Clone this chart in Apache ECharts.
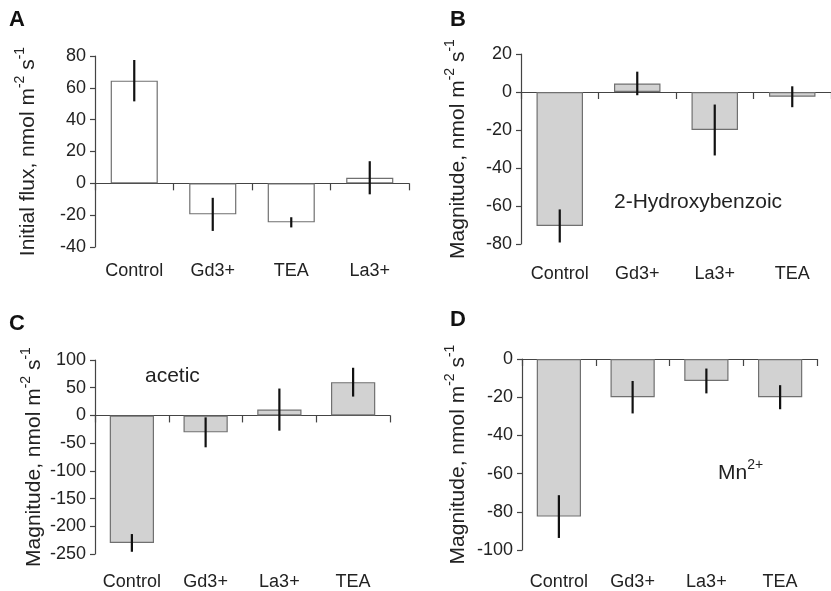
<!DOCTYPE html>
<html>
<head>
<meta charset="utf-8">
<script src="https://cdn.jsdelivr.net/npm/echarts@6/dist/echarts.min.js"></script>
<style>
  html, body { margin: 0; padding: 0; background: #fff; }
  #chart { width: 831px; height: 591px; }
</style>
</head>
<body>
<div id="chart"></div>
<script>
// ---- Data ----
const catsA = ['Control', 'Gd3+', 'TEA', 'La3+'];
const valsA = [64.5, -19.5, -24.5, 3.5];
const errA  = [13, 10.4, 3.2, 10.4];
const ticksA = { min: -40, max: 80, interval: 20 };

const catsB = ['Control', 'Gd3+', 'La3+', 'TEA'];
const valsB = [-70.5, 4.5, -20, -2.5];
const errB  = [8.7, 6.2, 13.4, 5.5];
const ticksB = { min: -80, max: 20, interval: 20 };

const catsC = ['Control', 'Gd3+', 'La3+', 'TEA'];
const valsC = [-230, -30.5, 10.5, 60];
const errC  = [16, 27, 38, 26];
const ticksC = { min: -250, max: 100, interval: 50 };

const catsD = ['Control', 'Gd3+', 'La3+', 'TEA'];
const valsD = [-82.5, -20, -11.5, -20];
const errD  = [11.2, 8.5, 6.5, 6.3];
const ticksD = { min: -100, max: 0, interval: 20 };

// ---- Styling ----
const FONT = "'Liberation Sans', Arial, Helvetica, sans-serif";
const TXT = '#222';
const AXIS = '#444';

const grids = [
  { left: 95,  top: 56,  width: 314, height: 191 },
  { left: 521, top: 54,  width: 314, height: 190 },
  { left: 95,  top: 360, width: 295, height: 196 },
  { left: 522, top: 359, width: 295, height: 193 }
];

const panels = [
  { cats: catsA, vals: valsA, err: errA, ticks: ticksA, fill: '#ffffff', name: 'Initial flux, nmol m', gap: 56, labelMargin: 15 },
  { cats: catsB, vals: valsB, err: errB, ticks: ticksB, fill: '#d2d2d2', name: 'Magnitude, nmol m',   gap: 52, labelMargin: 21 },
  { cats: catsC, vals: valsC, err: errC, ticks: ticksC, fill: '#d2d2d2', name: 'Magnitude, nmol m',   gap: 50, labelMargin: 19 },
  { cats: catsD, vals: valsD, err: errD, ticks: ticksD, fill: '#d2d2d2', name: 'Magnitude, nmol m',   gap: 53, labelMargin: 23 }
];

const xAxes = [], yAxes = [], series = [];
panels.forEach((p, i) => {
  // label axis (bottom of grid)
  xAxes.push({
    type: 'category', gridIndex: i, data: p.cats, position: 'bottom',
    axisLine: { show: false, onZero: false },
    axisTick: { show: false },
    axisLabel: { interval: 0, fontFamily: FONT, fontSize: 18, color: TXT, margin: p.labelMargin },
    splitLine: { show: false }
  });
  // zero line axis with ticks between categories
  xAxes.push({
    type: 'category', gridIndex: i, data: p.cats, position: 'bottom',
    axisLine: { show: true, onZero: true, lineStyle: { color: AXIS, width: 1.2 } },
    axisTick: { show: true, interval: 0, length: 7, lineStyle: { color: AXIS, width: 1.2 } },
    axisLabel: { show: false },
    splitLine: { show: false }
  });
  yAxes.push({
    type: 'value', gridIndex: i,
    min: p.ticks.min, max: p.ticks.max, interval: p.ticks.interval,
    axisLine: { show: true, lineStyle: { color: AXIS, width: 1.2 } },
    axisTick: { show: true, length: 5, lineStyle: { color: AXIS, width: 1.2 } },
    axisLabel: { fontFamily: FONT, fontSize: 18, color: TXT, margin: 9 },
    splitLine: { show: false },
    name: '{n|' + p.name + '}{s|-2}{n| s}{s|-1}',
    nameLocation: 'middle', nameRotate: 90, nameGap: p.gap,
    nameTextStyle: {
      fontFamily: FONT, color: TXT,
      rich: {
        n: { fontFamily: FONT, fontSize: 21, color: TXT, lineHeight: 26, verticalAlign: 'bottom' },
        s: { fontFamily: FONT, fontSize: 14, color: TXT, lineHeight: 26, verticalAlign: 'top' }
      }
    }
  });
  series.push({
    type: 'bar', xAxisIndex: i * 2, yAxisIndex: i,
    data: p.vals, barCategoryGap: '40%',
    itemStyle: { color: p.fill, borderColor: '#707070', borderWidth: 1.2 },
    silent: true, animation: false
  });
  series.push({
    type: 'custom', xAxisIndex: i * 2, yAxisIndex: i,
    data: p.vals.map((v, k) => [k, v, p.err[k]]),
    encode: { x: 0, y: 1 },
    renderItem: function (params, api) {
      const x = api.value(0), v = api.value(1), e = api.value(2);
      const a = api.coord([x, v + e]);
      const b = api.coord([x, v - e]);
      return { type: 'line', shape: { x1: a[0], y1: a[1], x2: b[0], y2: b[1] },
               style: { stroke: '#111', lineWidth: 2.2 } };
    },
    silent: true, animation: false, z: 5
  });
});

const letter = (t, x, y) => ({ type: 'text', left: x, top: y,
  style: { text: t, fontFamily: FONT, fontSize: 22, fontWeight: 'bold', fill: '#111' } });
const note = (t, x, y) => ({ type: 'text', left: x, top: y,
  style: { text: t, fontFamily: FONT, fontSize: 21, fill: TXT } });

const option = {
  animation: false,
  backgroundColor: '#fff',
  grid: grids,
  xAxis: xAxes,
  yAxis: yAxes,
  series: series,
  graphic: [
    letter('A', 9, 9), letter('B', 450, 9), letter('C', 9, 313), letter('D', 450, 309),
    note('2-Hydroxybenzoic', 614, 192),
    note('acetic', 145, 366),
    { type: 'text', left: 718, top: 458,
      style: { text: '{m|Mn}{p|2+}', fontFamily: FONT,
        rich: { m: { fontFamily: FONT, fontSize: 21, fill: TXT, lineHeight: 26, verticalAlign: 'bottom' },
                p: { fontFamily: FONT, fontSize: 14, fill: TXT, lineHeight: 26, verticalAlign: 'top' } } } }
  ]
};

const chart = echarts.init(document.getElementById('chart'), null, { renderer: 'canvas' });
chart.setOption(option);
</script>
</body>
</html>
